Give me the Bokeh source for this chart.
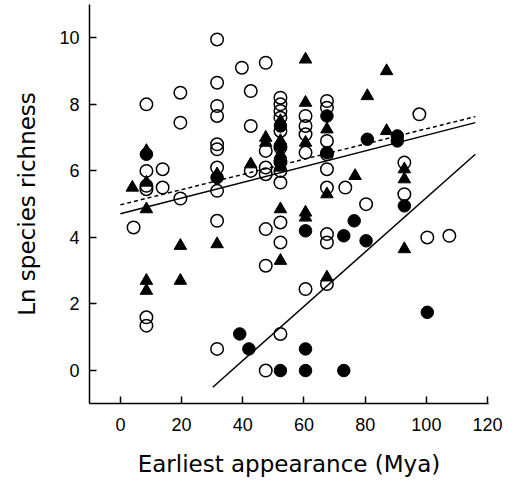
from bokeh.plotting import figure
from bokeh.models import Range1d, FixedTicker
from bokeh.embed import file_html
from bokeh.resources import INLINE

# open circles
oc_x = [4.3, 8.5, 8.5, 8.5, 8.5, 8.5, 8.5, 13.8, 13.8, 19.6, 19.6, 19.6,
        31.6, 31.6, 31.6, 31.6, 31.6, 31.6, 31.6, 31.6, 31.6, 31.6,
        39.7, 42.6, 42.6, 42.6,
        47.5, 47.5, 47.5, 47.5, 47.5, 47.5, 47.5,
        52.3, 52.3, 52.3, 52.3, 52.3, 52.3, 52.3, 52.3, 52.3, 52.3, 52.3, 52.3,
        60.5, 60.5, 60.5, 60.5, 60.5,
        67.5, 67.5, 67.5, 67.5, 67.5, 67.5, 67.5, 67.5, 67.5,
        73.5, 80.3, 92.8, 92.8, 97.7, 100.3, 107.5]
oc_y = [4.3, 8.0, 6.0, 5.55, 5.45, 1.6, 1.35, 6.05, 5.5, 8.35, 7.45, 5.17,
        9.95, 8.65, 7.95, 7.65, 6.8, 6.65, 6.1, 5.4, 4.5, 0.65,
        9.1, 8.4, 7.35, 6.0,
        9.25, 6.6, 6.1, 5.9, 4.25, 3.15, 0.0,
        8.2, 8.0, 7.8, 7.6, 7.2, 6.7, 6.3, 6.0, 5.65, 4.45, 3.85, 1.1,
        7.65, 7.35, 7.1, 6.55, 2.45,
        8.1, 7.9, 6.9, 6.5, 6.05, 5.5, 4.1, 3.85, 2.6,
        5.5, 5.0, 6.25, 5.3, 7.7, 4.0, 4.05]

# filled triangles
tr_x = [3.9, 8.5, 8.5, 8.5, 8.5, 8.5, 19.6, 19.6, 31.6, 31.6, 42.6, 47.5, 47.5,
        52.3, 52.3, 52.3, 52.3, 52.3, 52.3,
        60.5, 60.5, 60.5, 60.5, 60.5,
        67.5, 67.5, 67.5, 76.7, 80.7, 87.0, 87.0, 92.8, 92.8, 92.8]
tr_y = [5.5, 6.6, 5.65, 4.85, 2.7, 2.4, 3.75, 2.7, 5.9, 3.8, 6.2, 7.0, 6.85,
        7.5, 6.9, 6.5, 6.1, 4.85, 3.3,
        9.35, 8.05, 6.85, 4.75, 4.6,
        7.25, 5.3, 2.8, 5.85, 8.25, 9.0, 7.2, 6.05, 5.75, 3.65]

# filled circles
fc_x = [8.5, 31.6, 39.0, 42.0, 52.3, 52.3, 52.3, 52.3, 60.5, 60.5, 60.5,
        67.5, 67.5, 73.0, 73.0, 76.4, 80.3, 80.7, 90.5, 90.5, 92.8, 100.3]
fc_y = [6.5, 5.8, 1.1, 0.65, 7.35, 6.75, 6.25, 0.0, 4.2, 0.65, 0.0,
        7.65, 6.55, 4.05, 0.0, 4.5, 3.9, 6.95, 7.05, 6.9, 4.95, 1.75]

# fitted lines (end points)
fit_all_x = [0, 116]
fit_all_y = [4.71, 7.45]
fit_dash_x = [0, 116]
fit_dash_y = [4.98, 7.63]
fit_fc_x = [30.2, 116]
fit_fc_y = [-0.5, 6.5]

x_ticks = [0, 20, 40, 60, 80, 100, 120]
y_ticks = [0, 2, 4, 6, 8, 10]

p = figure(width=508, height=485, output_backend="svg", toolbar_location=None,
           x_range=Range1d(-10.1, 120.3), y_range=Range1d(-0.99, 11.0),
           min_border_left=89, min_border_right=20, min_border_top=4, min_border_bottom=82)
p.outline_line_color = None
p.grid.visible = False
p.background_fill_color = "white"

p.line(fit_dash_x, fit_dash_y, line_color="black", line_width=1.5, line_dash="4 3")
p.line(fit_all_x, fit_all_y, line_color="black", line_width=1.5)
p.line(fit_fc_x, fit_fc_y, line_color="black", line_width=1.5)

p.scatter(oc_x, oc_y, marker="circle", size=12.5, fill_color="white", fill_alpha=0.0,
          line_color="black", line_width=1.5)
p.scatter(fc_x, fc_y, marker="circle", size=12.5, fill_color="black", line_color="black")
p.scatter(tr_x, tr_y, marker="triangle", size=12.5, fill_color="black", line_color="black")

for ax in (p.xaxis, p.yaxis):
    ax.major_tick_in = 7
    ax.major_tick_out = 0
    ax.minor_tick_line_color = None
    ax.axis_line_width = 1.5
    ax.major_tick_line_width = 1.5
    ax.major_label_text_font = "Liberation Sans"
    ax.major_label_text_font_size = "18px"
    ax.major_label_text_color = "black"
    ax.axis_label_text_font = "DejaVu Sans"
    ax.axis_label_text_font_size = "23px"
    ax.axis_label_text_font_style = "normal"
    ax.axis_label_text_color = "black"

p.xaxis.ticker = FixedTicker(ticks=x_ticks)
p.yaxis.ticker = FixedTicker(ticks=y_ticks)
p.xaxis.axis_label = "Earliest appearance (Mya)"
p.yaxis.axis_label = "Ln species richness"
p.xaxis.major_label_standoff = 14
p.yaxis.major_label_standoff = 10
p.xaxis.axis_label_standoff = 17
p.yaxis.axis_label_standoff = 16

open("out.html", "w").write(file_html(p, INLINE))
